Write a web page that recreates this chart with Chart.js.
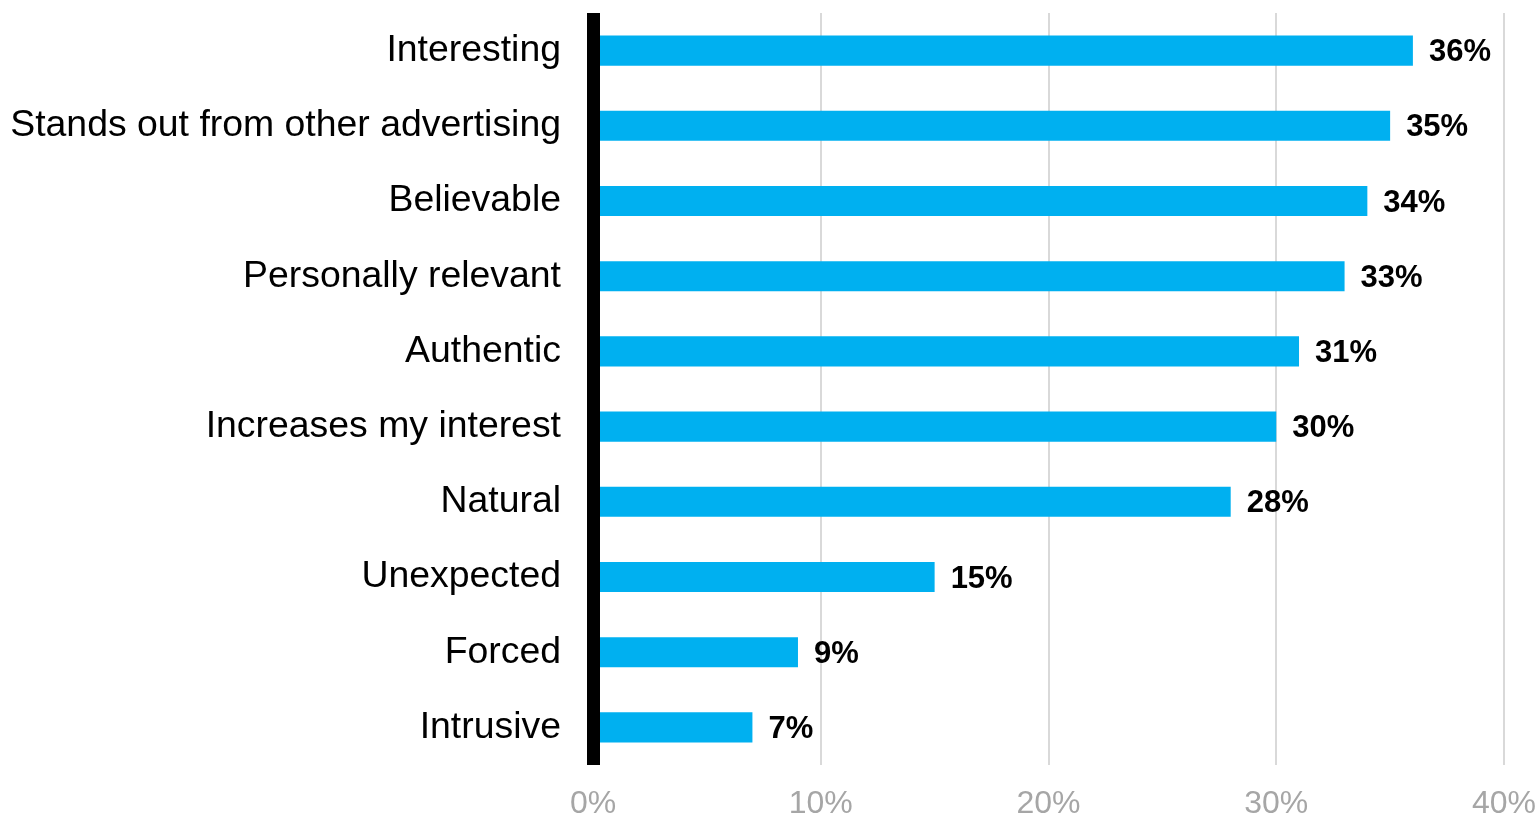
<!DOCTYPE html>
<html>
<head>
<meta charset="utf-8">
<script src="https://cdn.jsdelivr.net/npm/chart.js@4/dist/chart.umd.min.js"></script>
<style>
  html, body { margin: 0; padding: 0; background: #fff; }
  #wrap { width: 1539px; height: 816px; }
</style>
</head>
<body>
<div id="wrap"><canvas id="c" width="1539" height="816"></canvas></div>
<script>
const categories = ["Interesting", "Stands out from other advertising", "Believable", "Personally relevant", "Authentic", "Increases my interest", "Natural", "Unexpected", "Forced", "Intrusive"];
const values = [36, 35, 34, 33, 31, 30, 28, 15, 9, 7];
const xTicks = [0, 10, 20, 30, 40];

const FONT = "'Liberation Sans', Arial, sans-serif";

const valueLabels = {
  id: 'valueLabels',
  afterDatasetsDraw(chart) {
    const ctx = chart.ctx;
    const meta = chart.getDatasetMeta(0);
    const area = chart.chartArea;
    const x0 = chart.scales.x.getPixelForValue(0);
    ctx.save();
    // thick black value axis drawn over the bar bases
    ctx.fillStyle = '#000000';
    ctx.fillRect(x0 - 6, area.top, 13, area.bottom - area.top);
    ctx.font = "bold 31px " + FONT;
    ctx.fillStyle = '#000000';
    ctx.textAlign = 'left';
    ctx.textBaseline = 'middle';
    meta.data.forEach((bar, i) => {
      ctx.fillText(values[i] + '%', bar.x + 16, bar.y + 2);
    });
    ctx.restore();
  }
};

new Chart(document.getElementById('c'), {
  type: 'bar',
  data: {
    labels: categories,
    datasets: [{
      data: values,
      backgroundColor: '#00b0f0',
      borderWidth: 0,
      barPercentage: 0.4,
      categoryPercentage: 1.0
    }]
  },
  options: {
    indexAxis: 'y',
    responsive: false,
    animation: false,
    devicePixelRatio: 1,
    layout: { padding: { top: 13, right: 35, left: 0, bottom: 0 } },
    plugins: {
      legend: { display: false },
      tooltip: { enabled: false }
    },
    scales: {
      x: {
        min: 0,
        max: 40,
        afterBuildTicks(scale) { scale.ticks = xTicks.map(v => ({ value: v })); },
        afterFit(scale) {
          scale.height = 51;
          scale.paddingLeft = 0; scale.paddingRight = 0;
          scale.paddingTop = 0; scale.paddingBottom = 0;
        },
        grid: { color: '#d9d9d9', lineWidth: 2, drawTicks: false },
        border: { display: false },
        ticks: {
          color: '#a6a6a6',
          font: { family: FONT, size: 32, lineHeight: 1 },
          padding: 23,
          callback: (v) => v + '%'
        }
      },
      y: {
        afterFit(scale) {
          scale.width = 593;
          scale.paddingLeft = 0; scale.paddingRight = 0;
          scale.paddingTop = 0; scale.paddingBottom = 0;
        },
        grid: { display: false, drawTicks: false },
        border: { display: false },
        ticks: {
          color: '#000000',
          font: { family: FONT, size: 37.4 },
          padding: 32
        }
      }
    }
  },
  plugins: [valueLabels]
});
</script>
</body>
</html>
